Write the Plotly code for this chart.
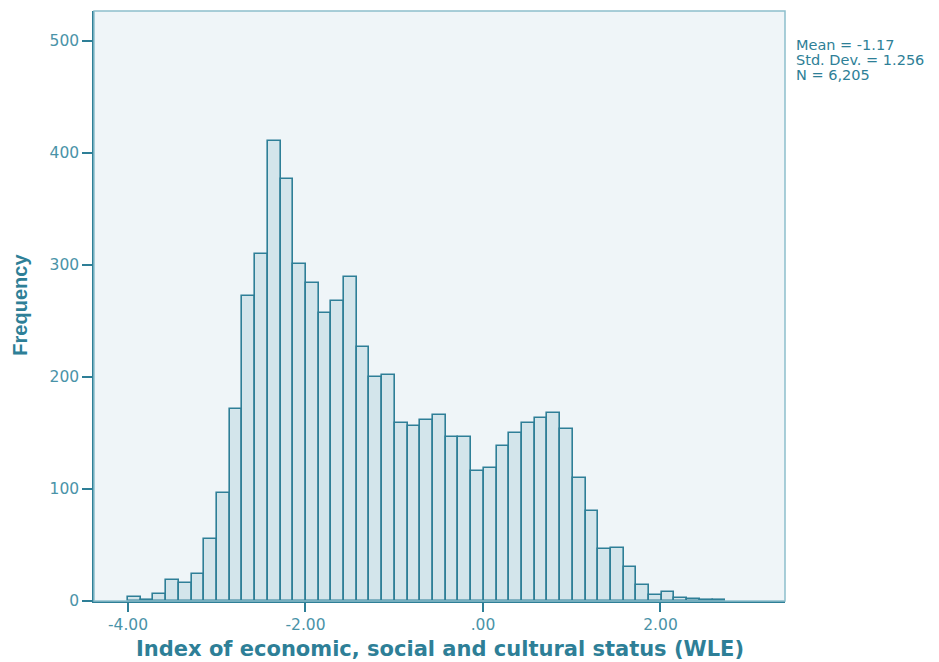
import plotly.graph_objects as go

# Histogram data
bin_start = -4.0
bin_width = 0.1432
counts = [4, 1, 6, 19, 16, 24, 55, 96, 171, 272, 310, 411, 377, 301, 284, 257,
          268, 289, 227, 200, 202, 159, 156, 162, 166, 146, 146, 116, 119, 138,
          150, 159, 163, 168, 154, 110, 80, 46, 47, 30, 14, 5, 8, 3, 2, 1, 1]
x_tick_vals = [-4, -2, 0, 2]
x_tick_text = ["-4.00", "-2.00", ".00", "2.00"]
y_tick_vals = [0, 100, 200, 300, 400, 500]
stats_lines = ["Mean = -1.17", "Std. Dev. = 1.256", "N = 6,205"]
x_title = "Index of economic, social and cultural status (WLE)"
y_title = "Frequency"

centers = [bin_start + bin_width * (i + 0.5) for i in range(len(counts))]

DARK = "#2E7F97"
TICK = "#4A93A8"
FRAME_LIGHT = "#8DBFCC"

fig = go.Figure()
fig.add_trace(go.Bar(
    x=centers, y=counts, width=[bin_width] * len(counts),
    marker=dict(color="#D3E5EB", line=dict(color=DARK, width=1.6)),
    hoverinfo="x+y",
))

annotations = []
stat_y = [0.9432, 0.9169, 0.8907]
for line, yy in zip(stats_lines, stat_y):
    annotations.append(dict(text=line, xref="paper", yref="paper",
                            x=1.013, y=yy, xanchor="left", yanchor="middle",
                            showarrow=False,
                            font=dict(family="DejaVu Sans", size=14.5, color=DARK)))
annotations.append(dict(text="<b>" + x_title + "</b>", xref="paper", yref="paper",
                        x=0.5007, y=-0.081, xanchor="center", yanchor="middle",
                        showarrow=False,
                        font=dict(family="DejaVu Sans", size=21, color=DARK)))
annotations.append(dict(text="<b>" + y_title + "</b>", xref="paper", yref="paper",
                        x=-0.1065, y=0.503, xanchor="center", yanchor="middle",
                        showarrow=False, textangle=-90,
                        font=dict(family="Liberation Sans", size=20, color=DARK)))

fig.update_layout(
    width=931, height=654,
    margin=dict(l=86, r=154, t=3, b=61),
    paper_bgcolor="white",
    plot_bgcolor="#EFF5F8",
    showlegend=False,
    bargap=0,
    font=dict(family="DejaVu Sans", color=TICK),
    shapes=[dict(type="rect", xref="paper", yref="paper", x0=0, y0=0, x1=1, y1=1,
                 line=dict(color=FRAME_LIGHT, width=1.5), layer="above")],
    annotations=annotations,
)

fig.update_xaxes(
    range=[-4.383, 3.403], tickvals=x_tick_vals, ticktext=x_tick_text,
    ticks="outside", ticklen=9, tickwidth=1.5, tickcolor=DARK,
    showline=True, linecolor=DARK, linewidth=1.5, showgrid=False, zeroline=False,
    tickfont=dict(family="DejaVu Sans", size=15.5, color=TICK),
)
fig.update_yaxes(
    range=[0, 526.8], tickvals=y_tick_vals,
    ticks="outside", ticklen=10, tickwidth=1.5, tickcolor=DARK,
    showline=True, linecolor=DARK, linewidth=1.5, showgrid=False, zeroline=False,
    tickfont=dict(family="DejaVu Sans", size=15.5, color=TICK),
)

fig.write_html("out.html")
